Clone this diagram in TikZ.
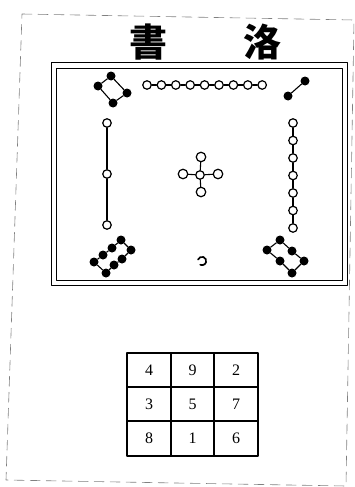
\documentclass[tikz,border=0pt]{standalone}
\usepackage{fontspec}
\newfontfamily\cjk{Noto Sans CJK TC}
\newfontfamily\numfont{Liberation Serif}
\tikzset{
  wdot/.style={circle,draw,fill=white,line width=1.2pt,inner sep=0pt,minimum size=8.5pt},
  bdot/.style={circle,fill=black,inner sep=0pt,minimum size=9pt},
  link/.style={line width=1.1pt},
  title/.style={font=\cjk\bfseries\fontsize{38}{38}\selectfont},
  cell/.style={font=\numfont\fontsize{16}{16}\selectfont},
}
\begin{document}
\begin{tikzpicture}[x=1pt,y=-1pt,line join=round,line cap=round]
\useasboundingbox (0,0) rectangle (355,487);
% page border
\draw[gray,line width=0.6pt,dash pattern=on 10pt off 6pt] (22,14) -- (354,20) -- (346,486) -- (6,480) -- cycle;
% title
\node[title] (shu) at (148,42) {書};
\node[title] (luo) at (262,42) {洛};
% double frame
\draw[line width=1pt] (51,63) rectangle (347,285);
\draw[line width=0.8pt] (56,68) rectangle (342,280);
% nine (top)
\foreach \i in {1,...,9} \node[wdot] (n\i) at ({147+14.4*(\i-1)},85) {};
\foreach \i [count=\j from 2] in {1,...,8} \draw[link] (n\i) -- (n\j);
% four (top left)
\node[bdot] (f1) at (111,76) {};
\node[bdot] (f2) at (98,86) {};
\node[bdot] (f3) at (113,103) {};
\node[bdot] (f4) at (127,93) {};
\draw[link] (f1) -- (f2) -- (f3) -- (f4) -- (f1);
% two (top right)
\node[bdot] (e1) at (305,81) {};
\node[bdot] (e2) at (288,96) {};
\draw[link] (e1) -- (e2);
% three (left)
\node[wdot] (t1) at (107,123) {};
\node[wdot] (t2) at (107,174) {};
\node[wdot] (t3) at (107,225) {};
\draw[link] (t1) -- (t2) -- (t3);
% seven (right)
\foreach \i in {1,...,7} \node[wdot] (v\i) at (293,{123+17.5*(\i-1)}) {};
\foreach \i [count=\j from 2] in {1,...,6} \draw[link] (v\i) -- (v\j);
% five (centre)
\node[wdot] (c0) at (200,175) {};
\node[wdot,minimum size=9.5pt] (c1) at (201,157) {};
\node[wdot,minimum size=9.5pt] (c2) at (183,174) {};
\node[wdot,minimum size=9.5pt] (c3) at (218,174) {};
\node[wdot,minimum size=9.5pt] (c4) at (201,192) {};
\foreach \k in {1,...,4} \draw[link] (c0) -- (c\k);
% eight (bottom left)
\node[bdot] (g1) at (94,262) {};
\node[bdot] (g2) at (103,255) {};
\node[bdot] (g3) at (112,248) {};
\node[bdot] (g4) at (121,240) {};
\node[bdot] (g5) at (131,250) {};
\node[bdot] (g6) at (122,259) {};
\node[bdot] (g7) at (114,265) {};
\node[bdot] (g8) at (106,273) {};
\draw[link] (g1) -- (g2) -- (g3) -- (g4) -- (g5) -- (g6) -- (g7) -- (g8) -- (g1);
% six (bottom right)
\node[bdot] (s1) at (267,250) {};
\node[bdot] (s2) at (280,240) {};
\node[bdot] (s3) at (292,251) {};
\node[bdot] (s4) at (304,261) {};
\node[bdot] (s5) at (292,273) {};
\node[bdot] (s6) at (280,261) {};
\draw[link] (s1) -- (s2) -- (s3) -- (s4) -- (s5) -- (s6) -- (s1);
% one (bottom)
\coordinate (o1) at (202,261);
\draw[line width=1.7pt] (o1) ++(-160:4.2) arc[start angle=-160,end angle=115,radius=4.2];
% magic square
\draw[line width=1.3pt] (127,353) rectangle (258,456);
\draw[line width=1.1pt] (171,353) -- (171,456) (214,353) -- (214,456)
  (127,387) -- (258,387) (127,421) -- (258,421);
\foreach \r/\y in {0/370,1/404,2/438.5}
  \foreach \c/\x in {0/149,1/192.5,2/236}
    \pgfmathsetmacro\ix{int(3*\r+\c)}
    \node[cell] (q\ix) at (\x,\y) {};
\node[cell] at (q0) {4}; \node[cell] at (q1) {9}; \node[cell] at (q2) {2};
\node[cell] at (q3) {3}; \node[cell] at (q4) {5}; \node[cell] at (q5) {7};
\node[cell] at (q6) {8}; \node[cell] at (q7) {1}; \node[cell] at (q8) {6};
\end{tikzpicture}
\end{document}
